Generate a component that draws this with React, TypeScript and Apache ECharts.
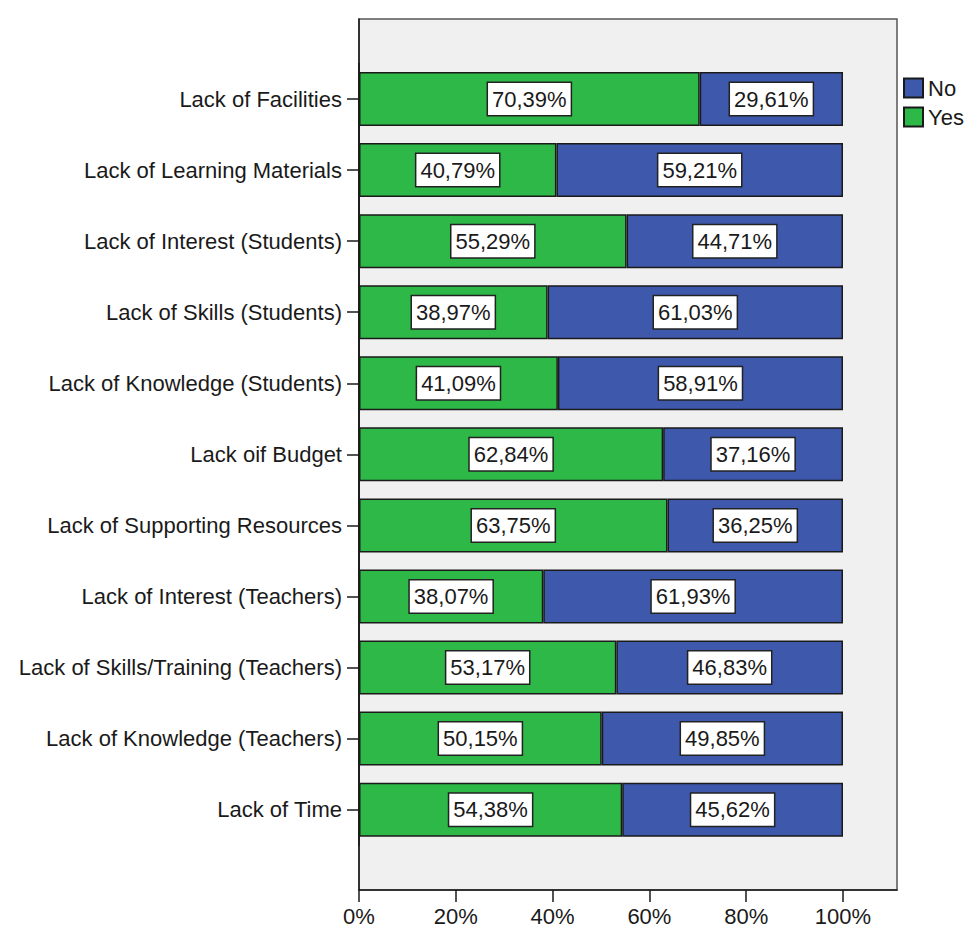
import React, { useEffect, useRef } from "react";
import * as echarts from "echarts";

const categories = [
  "Lack of Facilities",
  "Lack of Learning Materials",
  "Lack of Interest (Students)",
  "Lack of Skills (Students)",
  "Lack of Knowledge (Students)",
  "Lack oif Budget",
  "Lack of Supporting Resources",
  "Lack of Interest (Teachers)",
  "Lack of Skills/Training (Teachers)",
  "Lack of Knowledge (Teachers)",
  "Lack of Time",
];

const yesValues = [70.39, 40.79, 55.29, 38.97, 41.09, 62.84, 63.75, 38.07, 53.17, 50.15, 54.38];
const noValues = [29.61, 59.21, 44.71, 61.03, 58.91, 37.16, 36.25, 61.93, 46.83, 49.85, 45.62];

const xTicks = [0, 20, 40, 60, 80, 100];

const FONT = "'Liberation Sans', Arial, sans-serif";
const FS = 22;
const INK = "#1a1a1a";

// frame spans a little past 100% on the right, like the SPSS plot box
const FRAME_LEFT = 359;
const FRAME_RIGHT = 897;
const BAR_RIGHT = 843;
const frameMax = ((FRAME_RIGHT - FRAME_LEFT) / (BAR_RIGHT - FRAME_LEFT)) * 100;

const pct = (v: number) => v.toFixed(2).replace(".", ",") + "%";

export default function App() {
  const ref = useRef<HTMLDivElement>(null);

  useEffect(() => {
    document.body.style.margin = "0";
    if (!ref.current) return;
    const chart = echarts.init(ref.current, null, { renderer: "svg" });

    const label = {
      show: true,
      position: "inside",
      formatter: (p: any) => pct(p.value),
      color: INK,
      fontFamily: FONT,
      fontSize: FS,
      lineHeight: 23,
      backgroundColor: "#ffffff",
      borderColor: "#222222",
      borderWidth: 1.5,
      padding: [5, 4, 4, 4],
    };

    chart.setOption({
      animation: false,
      textStyle: { fontFamily: FONT },
      grid: [
        {
          left: FRAME_LEFT,
          right: 971 - FRAME_RIGHT,
          top: 19,
          bottom: 927 - 890,
          show: true,
          backgroundColor: "#f0f0f0",
          borderColor: "#555555",
          borderWidth: 1.5,
        },
        {
          left: FRAME_LEFT,
          right: 971 - BAR_RIGHT,
          top: 63.5,
          bottom: 927 - 845.2,
          show: false,
        },
      ],
      xAxis: [
        {
          gridIndex: 0,
          type: "value",
          min: 0,
          max: frameMax,
          splitLine: { show: false },
          axisLine: { show: true, lineStyle: { color: INK, width: 1.5 } },
          axisTick: {
            show: true,
            length: 12,
            customValues: xTicks,
            lineStyle: { color: INK, width: 1.5 },
          },
          axisLabel: {
            customValues: xTicks,
            formatter: (v: number) => v + "%",
            color: INK,
            fontSize: FS,
            fontFamily: FONT,
            margin: 15,
          },
        },
        {
          gridIndex: 1,
          type: "value",
          min: 0,
          max: 100,
          show: false,
        },
      ],
      yAxis: [
        {
          gridIndex: 0,
          type: "value",
          axisLine: { show: true, onZero: false, lineStyle: { color: INK, width: 1.5 } },
          axisTick: { show: false },
          axisLabel: { show: false },
          splitLine: { show: false },
        },
        {
          gridIndex: 1,
          type: "category",
          inverse: true,
          data: categories,
          axisLine: { show: true, lineStyle: { color: INK, width: 1.5 } },
          axisTick: {
            show: true,
            length: 12,
            alignWithLabel: true,
            interval: 0,
            lineStyle: { color: INK, width: 1.5 },
          },
          axisLabel: {
            interval: 0,
            color: INK,
            fontSize: FS,
            fontFamily: FONT,
            margin: 17,
          },
        },
      ],
      legend: {
        data: ["No", "Yes"],
        orient: "vertical",
        left: 903,
        top: 77,
        padding: 0,
        itemWidth: 19,
        itemHeight: 19,
        itemGap: 7,
        icon: "rect",
        textStyle: { color: INK, fontSize: FS, fontFamily: FONT },
      },
      series: [
        {
          name: "Yes",
          type: "bar",
          stack: "total",
          xAxisIndex: 1,
          yAxisIndex: 1,
          barWidth: 54,
          data: yesValues,
          itemStyle: { color: "#2eb848", borderColor: "#1a1a1a", borderWidth: 1.5 },
          label,
        },
        {
          name: "No",
          type: "bar",
          stack: "total",
          xAxisIndex: 1,
          yAxisIndex: 1,
          barWidth: 54,
          data: noValues,
          itemStyle: { color: "#3e58ac", borderColor: "#1a1a1a", borderWidth: 1.5 },
          label,
        },
      ],
    });

    return () => chart.dispose();
  }, []);

  return <div ref={ref} style={{ width: 971, height: 927 }} />;
}
